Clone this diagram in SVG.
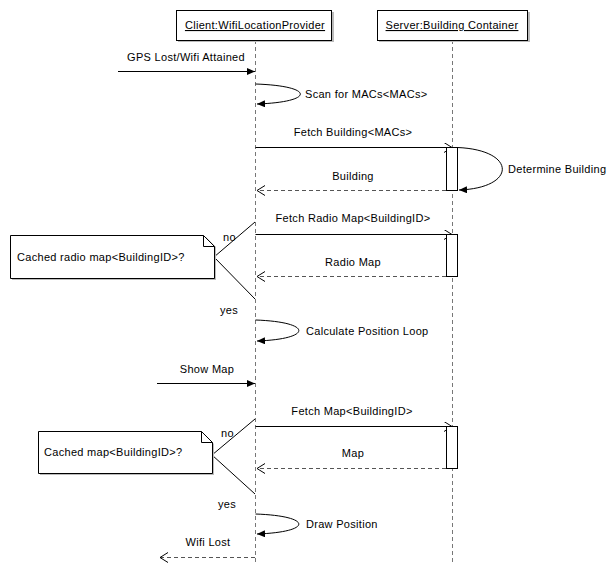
<svg xmlns="http://www.w3.org/2000/svg" width="608" height="565" viewBox="0 0 608 565">
<style>
text{font-family:"Liberation Sans",Arial,sans-serif;font-size:11px;fill:#000;letter-spacing:0.3px}
.mid{text-anchor:middle}
.box{fill:#fff;stroke:#000;stroke-width:1}
.shadow{fill:#bbb;stroke:none}
.life{stroke:#777;stroke-width:1;stroke-dasharray:4,3;fill:none}
.msg{stroke:#000;stroke-width:1;fill:none}
.ret{stroke:#555;stroke-width:1;stroke-dasharray:4,3;fill:none}
.note{fill:#fff;stroke:#000;stroke-width:1}
</style>
<defs>
<marker id="fill" markerUnits="userSpaceOnUse" markerWidth="10" markerHeight="8" refX="8" refY="3.5" orient="auto">
<path d="M0,0 L8,3.5 L0,7 z" fill="#000"/>
</marker>
<marker id="open" markerUnits="userSpaceOnUse" markerWidth="12" markerHeight="12" refX="8" refY="5" orient="auto">
<path d="M0,0 L8,5 L0,10" fill="none" stroke="#000" stroke-width="1"/>
</marker>
</defs>
<g id="lifelines">
<line class="life" x1="255.5" y1="40" x2="255.5" y2="565"/>
<line class="life" x1="452.5" y1="40" x2="452.5" y2="565"/>
</g>
<g id="client">
<rect class="shadow" x="178" y="12" width="156" height="30"/>
<rect class="box" x="176.5" y="10.5" width="155" height="30"/>
<text class="mid" x="255" y="29" text-decoration="underline">Client:WifiLocationProvider</text>
</g>
<g id="server">
<rect class="shadow" x="379" y="12" width="151" height="30"/>
<rect class="box" x="377.5" y="10.5" width="150" height="30"/>
<text class="mid" x="452" y="29" text-decoration="underline">Server:Building Container</text>
</g>
<g id="connectors">
<line class="msg" x1="118" y1="71.5" x2="255" y2="71.5" marker-end="url(#fill)"/>
<path class="msg" d="M255.5,84 C315,86 315,102 257,104" marker-end="url(#fill)"/>
<line class="msg" x1="255.5" y1="147.5" x2="452" y2="147.5" marker-end="url(#open)"/>
<line class="ret" x1="446" y1="190.5" x2="257" y2="190.5" marker-end="url(#open)"/>
<line class="msg" x1="255.5" y1="234.5" x2="452" y2="234.5" marker-end="url(#open)"/>
<line class="ret" x1="446" y1="276.5" x2="257" y2="276.5" marker-end="url(#open)"/>
<path class="msg" d="M255.5,320 C313,322 313,339 257,341" marker-end="url(#fill)"/>
<line class="msg" x1="157" y1="383.5" x2="255" y2="383.5" marker-end="url(#fill)"/>
<line class="msg" x1="255.5" y1="426.5" x2="452" y2="426.5" marker-end="url(#open)"/>
<line class="ret" x1="446" y1="468.5" x2="257" y2="468.5" marker-end="url(#open)"/>
<path class="msg" d="M255.5,514 C313,516 313,532 257,534" marker-end="url(#fill)"/>
<line class="ret" x1="255" y1="557.5" x2="160" y2="557.5" marker-end="url(#open)"/>
<line class="msg" x1="214" y1="257" x2="255" y2="222"/>
<line class="msg" x1="214" y1="257" x2="255" y2="299"/>
<line class="msg" x1="212" y1="455" x2="255" y2="419"/>
<line class="msg" x1="212" y1="455" x2="255" y2="494"/>
</g>
<g id="act1">
<rect class="box" x="446.5" y="147.5" width="11" height="43"/>
<path class="msg" d="M457.5,147.5 C517,150 517,188 459,190" marker-end="url(#fill)"/>
</g>
<g id="act2">
<rect class="box" x="446.5" y="234.5" width="11" height="42"/>
</g>
<g id="act3">
<rect class="box" x="446.5" y="426.5" width="11" height="42"/>
</g>
<g id="note1">
<path class="shadow" d="M12,237 L206,237 L216,247 L216,280 L12,280 z"/>
<path class="note" d="M10.5,235.5 L203.5,235.5 L214.5,246.5 L214.5,278.5 L10.5,278.5 z"/>
<path class="msg" d="M203.5,235.5 L203.5,246.5 L214.5,246.5"/>
<text x="17" y="261">Cached radio map&lt;BuildingID&gt;?</text>
</g>
<g id="note2">
<path class="shadow" d="M40,433 L203,433 L214,444 L214,475 L40,475 z"/>
<path class="note" d="M38.5,431.5 L201.5,431.5 L212.5,442.5 L212.5,473.5 L38.5,473.5 z"/>
<path class="msg" d="M201.5,431.5 L201.5,442.5 L212.5,442.5"/>
<text x="44" y="456">Cached map&lt;BuildingID&gt;?</text>
</g>
<g id="labels">
<text class="mid" x="186" y="61">GPS Lost/Wifi Attained</text>
<text x="305" y="98">Scan for MACs&lt;MACs&gt;</text>
<text class="mid" x="353" y="136">Fetch Building&lt;MACs&gt;</text>
<text x="508" y="173">Determine Building</text>
<text class="mid" x="353" y="180">Building</text>
<text class="mid" x="353" y="222">Fetch Radio Map&lt;BuildingID&gt;</text>
<text class="mid" x="353" y="266">Radio Map</text>
<text x="223" y="241">no</text>
<text x="220" y="314">yes</text>
<text x="306" y="335">Calculate Position Loop</text>
<text class="mid" x="207" y="373">Show Map</text>
<text class="mid" x="352" y="415">Fetch Map&lt;BuildingID&gt;</text>
<text class="mid" x="353" y="457">Map</text>
<text x="221" y="437">no</text>
<text x="218" y="508">yes</text>
<text x="306" y="528">Draw Position</text>
<text class="mid" x="208" y="546">Wifi Lost</text>
</g>
</svg>
